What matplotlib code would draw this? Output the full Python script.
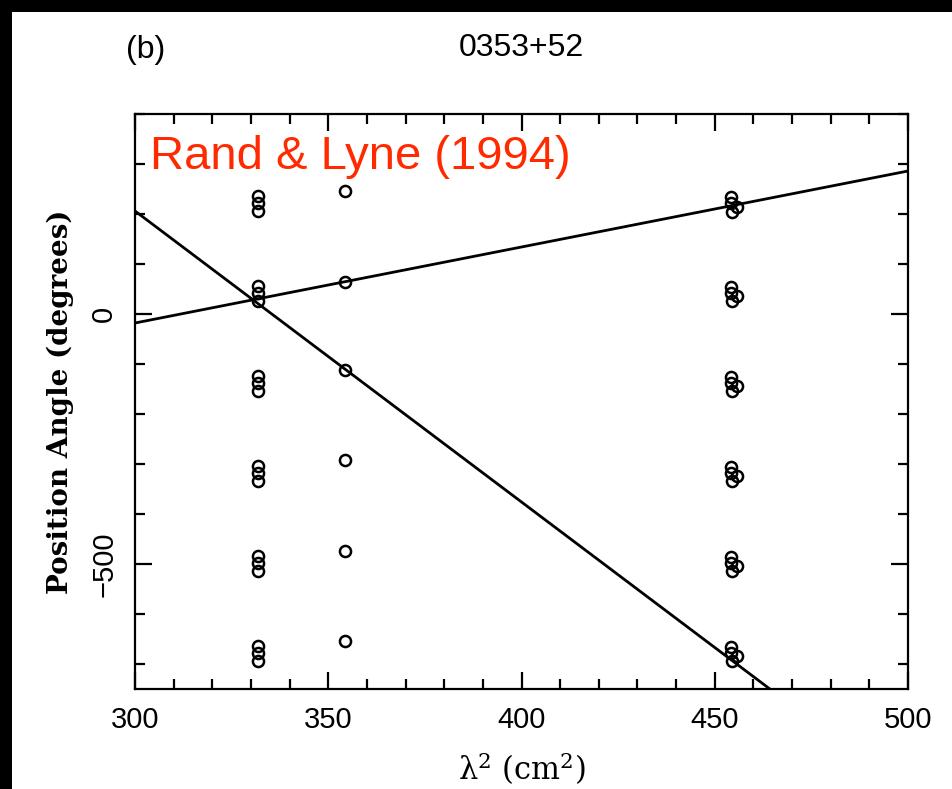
import matplotlib
matplotlib.use('Agg')
import matplotlib.pyplot as plt
from matplotlib.patches import Rectangle
from matplotlib.ticker import MultipleLocator

# Position angle vs lambda^2 for 0353+52 (angles shown with n*180 deg turns)
lam2_a = [331.8] * 18
pa_a = [236, 222, 206, 56, 42, 26, -124, -138, -154,
        -304, -318, -334, -484, -498, -514, -664, -678, -694]

lam2_b = [354.3] * 6
pa_b = [246, 64, -112, -292, -474, -654]

lam2_c = [454.2, 454.2, 455.8, 454.4,
          454.2, 454.2, 455.8, 454.4,
          454.2, 454.2, 455.8, 454.4,
          454.2, 454.2, 455.8, 454.4,
          454.2, 454.2, 455.8, 454.4,
          454.2, 454.2, 455.8, 454.4]
pa_c = [234, 222, 214, 204,
        54, 42, 36, 26,
        -126, -138, -144, -154,
        -306, -318, -324, -334,
        -486, -498, -504, -514,
        -666, -678, -684, -694]

# RM fits: (PA at lambda^2 = 300, slope in deg per cm^2)
fits = [(-18, 1.52), (206, -5.82)]
fit_x = [300, 500]

W, H = 952, 789
plt.rcParams['mathtext.fontset'] = 'dejavuserif'
fig = plt.figure(figsize=(W / 100, H / 100), dpi=100)
fig.patch.set_facecolor('black')
fig.add_artist(Rectangle((12 / W, 0), 1, 1 - 12 / H, transform=fig.transFigure,
                         facecolor='white', edgecolor='none', zorder=-1))

ax = fig.add_axes([135 / W, 1 - 689 / H, 773 / W, 575 / H])

for x, y in ((lam2_a, pa_a), (lam2_b, pa_b), (lam2_c, pa_c)):
    ax.plot(x, y, ls='', marker='o', ms=8, mfc='none', mec='black', mew=1.8)

for pa0, slope in fits:
    ax.plot(fit_x, [pa0 + slope * (xx - 300) for xx in fit_x], c='black', lw=2)

ax.set_xlim(300, 500)
ax.set_ylim(-750, 400)
ax.xaxis.set_major_locator(MultipleLocator(50))
ax.xaxis.set_minor_locator(MultipleLocator(10))
ax.yaxis.set_major_locator(MultipleLocator(500))
ax.yaxis.set_minor_locator(MultipleLocator(100))
ax.tick_params(which='both', direction='in', top=True, right=True,
               width=1.6, colors='black')
ax.tick_params(which='major', length=12, labelsize=21, pad=12)
ax.tick_params(which='minor', length=7)
for lb in ax.get_xticklabels() + ax.get_yticklabels():
    lb.set_family('Liberation Sans')
for lb in ax.get_yticklabels():
    lb.set_rotation(90)
    lb.set_va('center')
for sp in ax.spines.values():
    sp.set_linewidth(1.6)

ax.set_xlabel('λ$^2$ (cm$^2$)', family='DejaVu Serif', fontsize=22,
              labelpad=12)
ax.set_ylabel('Position Angle (degrees)', family='DejaVu Serif',
              fontweight='bold', fontsize=20, labelpad=12)

fig.text(146 / W, 1 - 50 / H, '(b)', family='Liberation Sans', fontsize=23,
         ha='center', va='center')
fig.text(521 / W, 1 - 48 / H, '0353+52', family='Liberation Sans', fontsize=23,
         ha='center', va='center')
ax.text(0.019, 0.925, 'Rand & Lyne (1994)', transform=ax.transAxes,
        family='Liberation Sans', fontsize=34, color='#ff2a00',
        ha='left', va='center')

fig.savefig('out.png', dpi=100, facecolor=fig.get_facecolor())
